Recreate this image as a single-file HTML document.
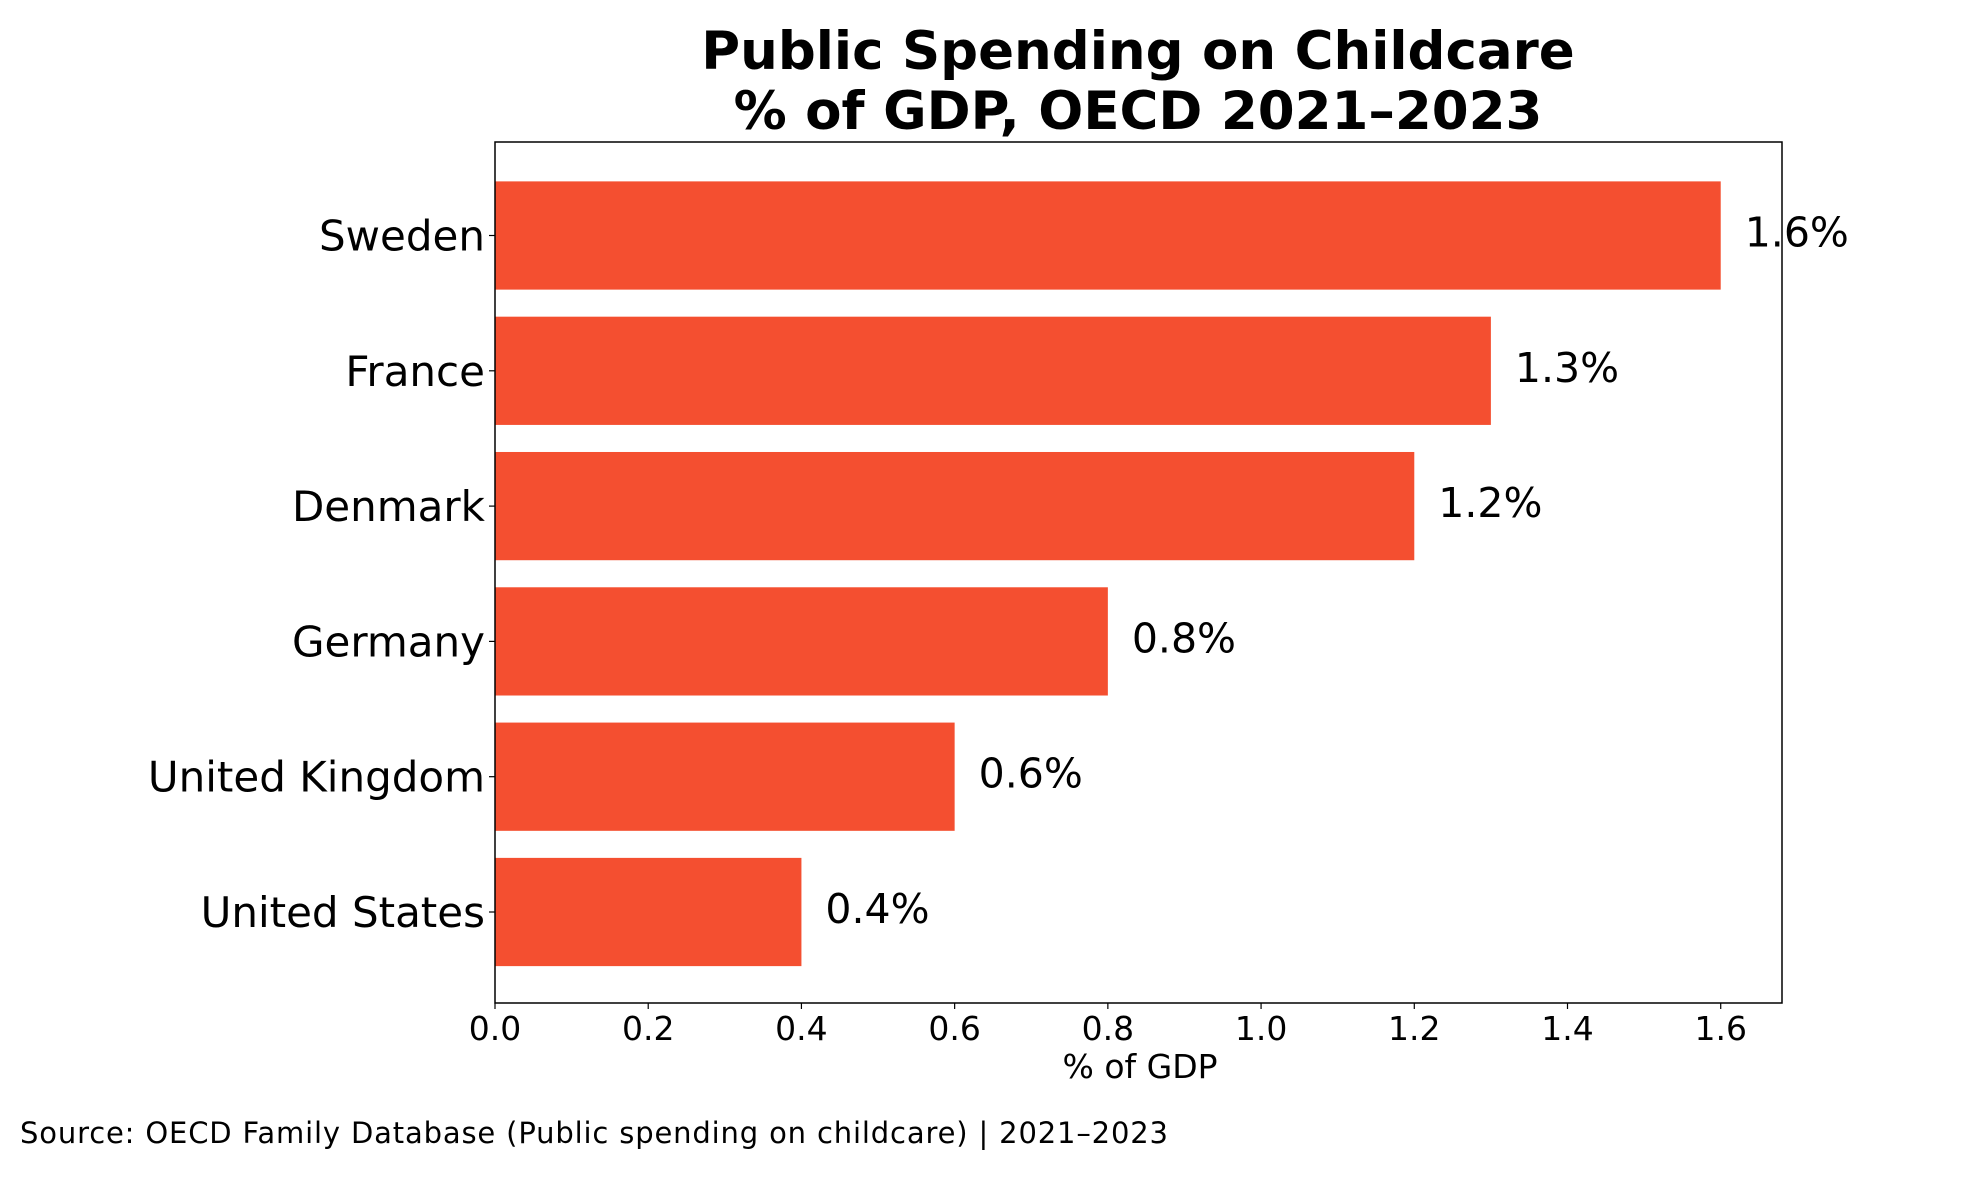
<!DOCTYPE html>
<html><head><meta charset="utf-8"><style>
html,body{margin:0;padding:0;background:#fff}
svg text{font-family:"DejaVu Sans","Liberation Sans",sans-serif;fill:#000}
</style></head><body>
<svg id="chart" width="1979" height="1180" viewBox="0 0 1979 1180" xmlns="http://www.w3.org/2000/svg">
<text x="1138" y="69" font-size="53" font-weight="bold" text-anchor="middle">Public Spending on Childcare</text>
<text x="1138" y="129" font-size="53" font-weight="bold" text-anchor="middle">% of GDP, OECD 2021–2023</text>
<g id="plot"></g>
<text x="1140" y="1078" font-size="33" text-anchor="middle">% of GDP</text>
<text x="20" y="1143" font-size="29" textLength="1148">Source: OECD Family Database (Public spending on childcare) | 2021–2023</text>
</svg>
<script>
const categories = ["Sweden","France","Denmark","Germany","United Kingdom","United States"];
const values = [1.6,1.3,1.2,0.8,0.6,0.4];
const valueLabels = ["1.6%","1.3%","1.2%","0.8%","0.6%","0.4%"];
const xTicks = [0,0.2,0.4,0.6,0.8,1.0,1.2,1.4,1.6];
const xTickLabels = ["0.0","0.2","0.4","0.6","0.8","1.0","1.2","1.4","1.6"];

const L=495,R=1782,T=142,B=1003;
const xmax=1.68;
const sx=v=>L+(v/xmax)*(R-L);
const unit=135.3;
const cy=i=>235.5+i*unit;
const NS="http://www.w3.org/2000/svg";
const g=document.getElementById('plot');
function mk(t,a){const e=document.createElementNS(NS,t);for(const k in a)e.setAttribute(k,a[k]);g.appendChild(e);return e;}
categories.forEach((c,i)=>{
  const bh=unit*0.8;
  const r=mk('rect',{x:L,y:cy(i)-bh/2,width:sx(values[i])-L,height:bh,fill:'#f44f30'});
  
  
  const vl=mk('text',{x:sx(values[i])+24,y:cy(i)+11,'font-size':41});
  vl.textContent=valueLabels[i];
  
  
  const tk=mk('line',{x1:L-6,x2:L,y1:cy(i),y2:cy(i),stroke:'#000','stroke-width':1.2});
  
  
  const yl=mk('text',{x:L-10,y:cy(i)+15,'font-size':42,'text-anchor':'end'});
  yl.textContent=c;
  
  
});
xTicks.forEach((v,i)=>{
  const tk=mk('line',{x1:sx(v),x2:sx(v),y1:B,y2:B+6,stroke:'#000','stroke-width':1.2});
  
  
  const tl=mk('text',{x:sx(v),y:1040,'font-size':33,'text-anchor':'middle'});
  tl.textContent=xTickLabels[i];
  
  
});
const fr=mk('rect',{x:L,y:T,width:R-L,height:B-T,fill:'none',stroke:'#000','stroke-width':1.5});


</script>
</body></html>
